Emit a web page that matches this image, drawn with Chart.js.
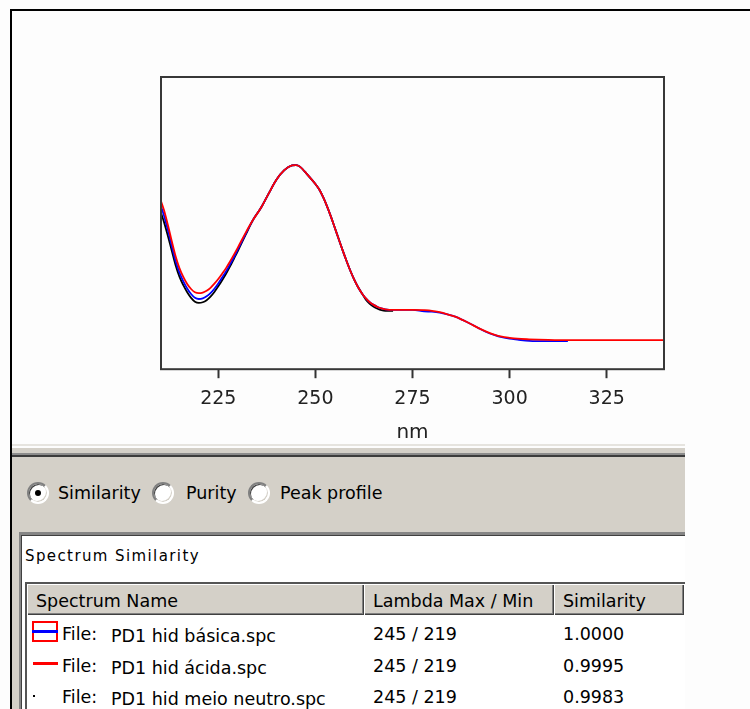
<!DOCTYPE html>
<html>
<head>
<meta charset="utf-8">
<script src="https://cdn.jsdelivr.net/npm/chart.js@4.4.1/dist/chart.umd.min.js"></script>
<style>
  body { margin: 0; background: #fdfdfd; font-family: "DejaVu Sans", sans-serif; color: #000; }
  #page { position: relative; width: 750px; height: 709px; overflow: hidden; }
  .abs { position: absolute; }
  #frame { left: 10px; top: 9px; width: 760px; height: 720px; border-top: 2px solid #000; border-left: 2px solid #000; }
  #spectrum { position: absolute; left: 0; top: 0; z-index: 2; }
  .panel { z-index: 3; }
  .txt { position: absolute; font-size: 17.5px; line-height: 20px; height: 20px; white-space: nowrap; z-index: 5; }
  .radio {
    position: absolute; width: 22px; height: 22px; border-radius: 50%; background: #fff;
    box-sizing: border-box; border: 2px solid; border-color: #808080 #fff #fff #808080;
    box-shadow: inset 1px 1px 0 #404040, inset -1px -1px 0 #d4d0c8; z-index: 5;
  }
  .radio.on::after {
    content: ""; position: absolute; left: 6px; top: 6px; width: 6px; height: 6px;
    border-radius: 50%; background: #000;
  }
  .hcell {
    position: absolute; top: 584px; height: 31px; background: #d4d0c8; box-sizing: border-box; z-index: 5;
    box-shadow: inset 1px 1px 0 #fff, inset -1px -1px 0 #404040, inset -2px -2px 0 #808080;
  }
</style>
</head>
<body>
<div id="page">
  <div id="frame" class="abs"></div>
  <canvas id="spectrum" width="750" height="450"></canvas>

  <!-- lower panel -->
  <div class="abs panel" style="left:12px;top:444px;width:673px;height:2px;background:#e6e4df"></div>
  <div class="abs panel" style="left:12px;top:448px;width:673px;height:5px;background:#d4d0c8"></div>
  <div class="abs panel" style="left:12px;top:453px;width:673px;height:2px;background:#8c8c8c"></div>
  <div class="abs panel" style="left:12px;top:455px;width:673px;height:2px;background:#3c3c3c"></div>
  <div class="abs panel" style="left:12px;top:457px;width:673px;height:252px;background:#d4d0c8"></div>
  <div class="abs panel" style="left:19px;top:532px;width:666px;height:177px;background:#fff;box-sizing:border-box;border-top:3px solid #858585;border-left:2px solid #858585;box-shadow:inset 1px 1px 0 #404040"></div>

  <span class="radio on" style="left:27px;top:482px"></span>
  <div class="txt" style="left:58px;top:483px">Similarity</div>
  <span class="radio" style="left:152px;top:482px"></span>
  <div class="txt" style="left:186px;top:483px">Purity</div>
  <span class="radio" style="left:248px;top:482px"></span>
  <div class="txt" style="left:280px;top:483px">Peak profile</div>

  <div class="txt" style="left:25px;top:547px;font-size:15px;line-height:18px;letter-spacing:1.4px">Spectrum Similarity</div>

  <div class="abs panel" style="left:25px;top:582px;width:660px;height:127px;background:#fff;box-sizing:border-box;border-left:2px solid #555;border-top:2px solid #555;z-index:4"></div>
  <div class="hcell" style="left:27px;width:337px"></div>
  <div class="hcell" style="left:364px;width:190px"></div>
  <div class="hcell" style="left:554px;width:130px"></div>
  <div class="txt" style="left:36px;top:591px">Spectrum Name</div>
  <div class="txt" style="left:373px;top:591px">Lambda Max / Min</div>
  <div class="txt" style="left:563px;top:591px">Similarity</div>

  <div id="rows"></div>
</div>

<script>
// wavelengths (nm) at which the spectra were read
const wavelengths = [210,211,212,213,214,215,216,217,218,219,220,221,222,223,224,225,226,227,228,229,230,
  232,234,236,238,240,242,244,245,246,248,250,
  251,252,253,254,255,256,257,258,259,260,261,262,263,264,265,266,267,268,
  270,272,275,278,280,282,284,286,288,290,292,294,296,298,300,
  302,305,310,315,320,330,340];

// PD1 hid ácida (red)
const acidaAbs = [0.584,0.545,0.495,0.440,0.388,0.347,0.317,0.293,0.276,0.265,0.262,0.264,0.270,0.280,0.294,0.310,0.328,0.347,0.369,0.392,0.416,
  0.466,0.512,0.552,0.601,0.648,0.680,0.696,0.697,0.692,0.664,0.633,
  0.614,0.588,0.557,0.522,0.484,0.446,0.408,0.372,0.338,0.308,0.282,0.261,0.244,0.231,0.222,0.215,0.210,0.207,
  0.205,0.205,0.205,0.204,0.202,0.197,0.190,0.182,0.170,0.157,0.143,0.131,0.121,0.114,0.110,
  0.107,0.105,0.103,0.102,0.102,0.102,0.102];

// PD1 hid básica (blue)
const basicaAbs = [0.567,0.527,0.478,0.424,0.372,0.332,0.302,0.278,0.259,0.246,0.242,0.244,0.251,0.262,0.277,0.295,0.315,0.336,0.359,0.383,0.409,
  0.462,0.512,0.552,0.601,0.648,0.680,0.696,0.697,0.692,0.664,0.633,
  0.614,0.588,0.557,0.522,0.484,0.446,0.408,0.372,0.338,0.308,0.282,0.261,0.244,0.231,0.222,0.215,0.210,0.207,
  0.205,0.205,0.205,0.200,0.199,0.196,0.190,0.182,0.170,0.157,0.143,0.130,0.120,0.112,0.107,
  0.104,0.100,0.099,0.099,null,null,null];

// PD1 hid meio neutro (black)
const neutroAbs = [0.545,0.505,0.458,0.408,0.358,0.318,0.289,0.265,0.246,0.233,0.229,0.231,0.238,0.250,0.266,0.285,0.306,0.328,0.352,0.378,0.404,
  0.459,0.512,0.552,0.601,0.648,0.680,0.696,0.697,0.692,0.664,0.633,
  0.614,0.588,0.557,0.522,0.484,0.446,0.408,0.372,0.338,0.308,0.282,0.261,0.240,0.226,0.216,0.209,0.204,0.202,
  0.202,null,null,null,null,null,null,null,null,null,null,null,null,null,null,
  null,null,null,null,null,null,null];

const nmTicks = [225, 250, 275, 300, 325];

// table
const fileNames = ['PD1 hid básica.spc', 'PD1 hid ácida.spc', 'PD1 hid meio neutro.spc'];
const lambdaMaxMin = ['245 / 219', '245 / 219', '245 / 219'];
const similarity = ['1.0000', '0.9995', '0.9983'];

function toPoints(values) {
    return wavelengths.map((nm, i) => ({ x: nm, y: values[i] }));
}

const framePlugin = {
    id: 'frame',
    afterDatasetsDraw(chart) {
        const { ctx, chartArea: a } = chart;
        ctx.save();
        ctx.strokeStyle = '#383838';
        ctx.lineWidth = 2;
        ctx.strokeRect(a.left + 1, a.top + 1, a.right - a.left - 2, a.bottom - a.top - 2);
        ctx.restore();
    }
};

const config = {
    type: 'line',
    data: {
        datasets: [
            { label: fileNames[1], data: toPoints(acidaAbs), borderColor: '#ff0000' },
            { label: fileNames[0], data: toPoints(basicaAbs), borderColor: '#0000ff' },
            { label: fileNames[2], data: toPoints(neutroAbs), borderColor: '#000000' }
        ]
    },
    options: {
        responsive: false,
        animation: false,
        layout: { padding: { left: 160, right: 85, top: 76, bottom: 5 } },
        elements: {
            point: { radius: 0 },
            line: { borderWidth: 1.8, cubicInterpolationMode: 'monotone', fill: false }
        },
        plugins: {
            legend: { display: false },
            tooltip: { enabled: false }
        },
        scales: {
            x: {
                type: 'linear',
                min: 210,
                max: 340,
                afterBuildTicks: axis => { axis.ticks = nmTicks.map(v => ({ value: v })); },
                grid: { drawOnChartArea: false, drawTicks: true, tickLength: 8, tickWidth: 2, tickColor: '#333' },
                border: { display: false },
                ticks: { padding: 9, maxRotation: 0, color: '#222', font: { family: 'DejaVu Sans', size: 19 } },
                title: { display: true, text: 'nm', color: '#222', font: { family: 'DejaVu Sans', size: 20 }, padding: { top: 2, bottom: 0 } }
            },
            y: { display: false, min: 0, max: 1 }
        }
    },
    plugins: [framePlugin]
};

new Chart(document.getElementById('spectrum'), config);

// rows of the similarity table
const rowCenters = [634, 666, 697];
const rows = document.getElementById('rows');
let html = '';
rowCenters.forEach((cy, i) => {
    const top = cy - 10;
    html += `<div class="txt" style="left:62px;top:${top}px">File:</div>`;
    html += `<div class="txt" style="left:111px;top:${top + 2}px">${fileNames[i]}</div>`;
    html += `<div class="txt" style="left:373px;top:${top}px">${lambdaMaxMin[i]}</div>`;
    html += `<div class="txt" style="left:563px;top:${top}px">${similarity[i]}</div>`;
});
// legend swatches
html += '<div class="abs" style="left:32px;top:621px;width:26px;height:21px;box-sizing:border-box;border:2px solid #f00;z-index:5"></div>';
html += '<div class="abs" style="left:32px;top:630px;width:26px;height:3px;background:#00f;z-index:6"></div>';
html += '<div class="abs" style="left:33px;top:662px;width:25px;height:3px;background:#f00;z-index:5"></div>';
html += '<div class="abs" style="left:33px;top:695px;width:2px;height:2px;background:#000;z-index:5"></div>';
rows.innerHTML = html;
</script>
</body>
</html>
